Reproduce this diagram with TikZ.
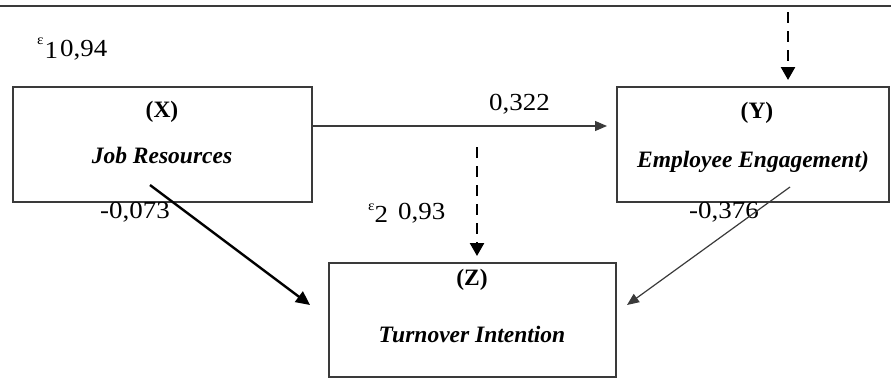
\documentclass[tikz,border=0pt]{standalone}
\usepackage{fontspec}
\setmainfont{Liberation Serif}
\newfontfamily\numfont[FakeStretch=1.1]{Liberation Serif}
\usetikzlibrary{arrows.meta,calc}
\definecolor{linegray}{HTML}{3A3A3A}

\begin{document}
\begin{tikzpicture}[x=1pt,y=-1pt,
  box/.style={draw=linegray, line width=1.3pt, rectangle, inner sep=0pt, outer sep=0pt},
  vartitle/.style={anchor=base, inner sep=0pt, font=\fontsize{23.5}{28}\selectfont\bfseries},
  varname/.style={anchor=base, inner sep=0pt, font=\fontsize{23.5}{28}\selectfont\bfseries\itshape},
  coef/.style={anchor=base west, inner sep=0pt, font=\numfont\fontsize{24.5}{28}\selectfont},
  thinarrow/.style={draw=linegray, line width=1.2pt, -{Triangle[length=12pt,width=10pt]}},
  thickarrow/.style={draw=black, line width=2.4pt, -{Triangle[length=14pt,width=13pt]}},
  errarrow/.style={draw=black, line width=2.5pt, dash pattern=on 11pt off 8pt,
    -{Triangle[length=13pt,width=14pt]}, shorten >=7pt}
]
\useasboundingbox (0,0) rectangle (891,378);

% top rule
\draw[draw=linegray, line width=2pt] (0,6) -- (891,6);

% variable boxes
\node[box, minimum width=299pt, minimum height=115pt] (X) at (162.5,144.5) {};
\node[box, minimum width=272pt, minimum height=115pt] (Y) at (753,144.5) {};
\node[box, minimum width=287pt, minimum height=114pt] (Z) at (472.5,320) {};

% box texts
\node[vartitle] (xt) at (162,117) {(X)};
\node[varname]  (xn) at (162,163) {Job Resources};
\node[vartitle] (yt) at (757,118) {(Y)};
\node[varname]  (yn) at (753,167) {Employee Engagement)};
\node[vartitle] (zt) at (472,285) {(Z)};
\node[varname]  (zn) at (472,342) {Turnover Intention};

% error terms
\node[coef] (e1) at (37,56)
  {{\fontsize{14}{14}\selectfont\raisebox{12pt}{ε}}\kern1pt\raisebox{-2pt}{1}\kern2pt0,94};
\node[coef] (e2) at (368,219)
  {{\fontsize{14}{14}\selectfont\raisebox{9pt}{ε}}\raisebox{-3pt}{2}\kern10pt0,93};

% path coefficients
\node[coef] (cxy) at (489,110) {0,322};
\node[coef] (cxz) at (100,218) {-0,073};
\node[coef] (cyz) at (689,218) {-0,376};

% connector end points
\coordinate (xzs) at (150,185);
\coordinate (xze) at (310,305);
\coordinate (yzs) at (790,187);
\coordinate (yze) at (627,305);
\coordinate (ey) at (788,12);
\coordinate (ez) at (477,147);

% paths
\draw[thinarrow, shorten >=10pt] (X.east |- 0,126) -- (Y.west |- 0,126);
\draw[thickarrow] (xzs) -- (xze);
\draw[thinarrow] (yzs) -- (yze);
\draw[errarrow] (ey) -- (ey |- Y.north);
\draw[errarrow] (ez) -- (ez |- Z.north);
\end{tikzpicture}
\end{document}
